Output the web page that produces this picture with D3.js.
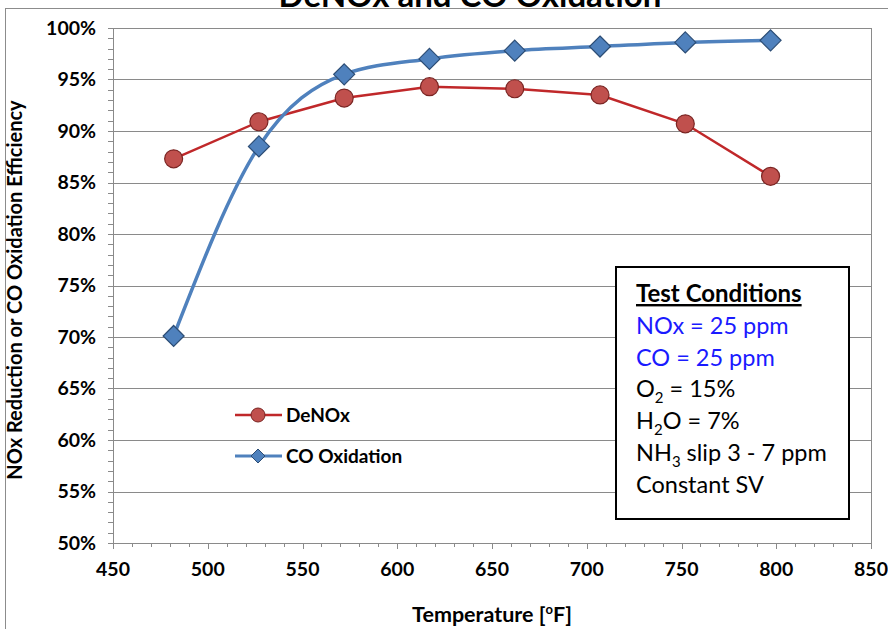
<!DOCTYPE html>
<html><head><meta charset="utf-8">
<script src="https://cdn.jsdelivr.net/npm/d3@7"></script>
<style>body{margin:0;background:#fff;}svg{display:block;font-family:Lato,"Open Sans",sans-serif;}</style>
</head><body>
<svg id="c" width="888" height="629"></svg>
<script>
const temps = [482, 527, 572, 617, 662, 707, 752, 797];
const deNOx = [87.3, 90.9, 93.2, 94.3, 94.1, 93.5, 90.7, 85.6];
const coOx = [70.1, 88.5, 95.5, 97.0, 97.8, 98.2, 98.6, 98.8];
const xTicks = [450, 500, 550, 600, 650, 700, 750, 800, 850];
const yTicks = [50, 55, 60, 65, 70, 75, 80, 85, 90, 95, 100];
const conditions = [
  {t: "NOx = 25 ppm", c: "#1a1aff"},
  {t: "CO = 25 ppm", c: "#1a1aff"},
  {t: "O|2| = 15%", c: "#000"},
  {t: "H|2|O = 7%", c: "#000"},
  {t: "NH|3| slip 3 - 7 ppm", c: "#000"},
  {t: "Constant SV", c: "#000"}
];

const svg = d3.select("#c");
const L = 113, R = 871, T = 28, B = 543;
const x = d3.scaleLinear().domain([450, 850]).range([L, R]);
const y = d3.scaleLinear().domain([50, 100]).range([B, T]);

// outer chart border
svg.append("rect").attr("x", 5.5).attr("y", 8.5).attr("width", 900).attr("height", 700)
  .attr("fill", "none").attr("stroke", "#8c8c8c").attr("stroke-width", 1);

// title (cut off at top as in the reference)
svg.append("text").attr("x", 470).attr("y", 7).attr("text-anchor", "middle")
  .attr("font-size", 33).attr("font-weight", "bold").text("DeNOx and CO Oxidation");

// gridlines
svg.append("g").selectAll("line").data(yTicks.slice(1)).join("line")
  .attr("x1", L).attr("x2", R).attr("y1", d => Math.round(y(d)) + 0.5).attr("y2", d => Math.round(y(d)) + 0.5)
  .attr("stroke", "#8a8a8a").attr("stroke-width", 1);
svg.append("line").attr("x1", R + 0.5).attr("x2", R + 0.5).attr("y1", T).attr("y2", B).attr("stroke", "#8a8a8a");

// y axis
const yMinor = d3.range(50, 100.01, 1);
const gy = svg.append("g");
gy.append("line").attr("x1", L + 0.5).attr("x2", L + 0.5).attr("y1", T).attr("y2", B).attr("stroke", "#8a8a8a");
gy.selectAll("line.m").data(yMinor).join("line").attr("class", "m")
  .attr("x1", L - 5).attr("x2", L).attr("y1", d => Math.round(y(d)) + 0.5).attr("y2", d => Math.round(y(d)) + 0.5)
  .attr("stroke", "#8a8a8a");
gy.selectAll("text").data(yTicks).join("text")
  .attr("x", L - 17).attr("y", d => y(d) + 6.5).attr("text-anchor", "end")
  .attr("font-size", 19.5).attr("font-weight", "bold").text(d => d + "%");

// x axis
const xMinor = d3.range(450, 850.01, 10);
const gx = svg.append("g");
gx.append("line").attr("x1", L).attr("x2", R).attr("y1", B + 0.5).attr("y2", B + 0.5).attr("stroke", "#8a8a8a");
gx.selectAll("line.m").data(xMinor).join("line").attr("class", "m")
  .attr("x1", d => Math.round(x(d)) + 0.5).attr("x2", d => Math.round(x(d)) + 0.5)
  .attr("y1", B).attr("y2", d => B + (d % 50 === 0 ? 6 : 4)).attr("stroke", "#8a8a8a");
gx.selectAll("text").data(xTicks).join("text")
  .attr("x", d => x(d)).attr("y", B + 33).attr("text-anchor", "middle")
  .attr("font-size", 19.5).attr("font-weight", "bold").text(d => d);

// axis titles
const xt = svg.append("text").attr("x", 492).attr("y", 622).attr("text-anchor", "middle")
  .attr("font-size", 21.5).attr("font-weight", "bold");
xt.append("tspan").text("Temperature [");
xt.append("tspan").attr("font-size", 13).attr("dy", -8).text("o");
xt.append("tspan").attr("dy", 8).text("F]");
svg.append("text").attr("transform", "translate(22,290) rotate(-90)").attr("text-anchor", "middle")
  .attr("font-size", 20).attr("font-weight", "bold").text("NOx Reduction or CO Oxidation Efficiency");

// series
const redLine = "#c0282a", redFill = "#c0504d", redStroke = "#7a2523";
const blueLine = "#4f81bd", blueFill = "#4f81bd", blueStroke = "#2c4d75";

const lineRed = d3.line().x((d, i) => x(temps[i])).y(d => y(d));
const lineBlue = d3.line().x((d, i) => x(temps[i])).y(d => y(d)).curve(d3.curveMonotoneX);

svg.append("path").attr("d", lineRed(deNOx)).attr("fill", "none").attr("stroke", redLine).attr("stroke-width", 2.5);
svg.append("path").attr("d", lineBlue(coOx)).attr("fill", "none").attr("stroke", blueLine).attr("stroke-width", 3.5);

const diamond = s => `M0,${-s}L${s},0L0,${s}L${-s},0Z`;
svg.append("g").selectAll("circle").data(deNOx).join("circle")
  .attr("cx", (d, i) => x(temps[i])).attr("cy", d => y(d)).attr("r", 9)
  .attr("fill", redFill).attr("stroke", redStroke).attr("stroke-width", 1.2);
svg.append("g").selectAll("path").data(coOx).join("path")
  .attr("transform", (d, i) => `translate(${x(temps[i])},${y(d)})`).attr("d", diamond(10.5))
  .attr("fill", blueFill).attr("stroke", blueStroke).attr("stroke-width", 1.2);

// legend
const lg = svg.append("g");
lg.append("line").attr("x1", 235).attr("x2", 282).attr("y1", 415).attr("y2", 415).attr("stroke", redLine).attr("stroke-width", 2.5);
lg.append("circle").attr("cx", 258).attr("cy", 415).attr("r", 7).attr("fill", redFill).attr("stroke", redStroke);
lg.append("text").attr("x", 286).attr("y", 422).attr("font-size", 19).attr("font-weight", "bold").text("DeNOx");
lg.append("line").attr("x1", 235).attr("x2", 282).attr("y1", 456).attr("y2", 456).attr("stroke", blueLine).attr("stroke-width", 3);
lg.append("path").attr("transform", "translate(258,456)").attr("d", diamond(7)).attr("fill", blueFill).attr("stroke", blueStroke);
lg.append("text").attr("x", 286).attr("y", 463).attr("font-size", 19).attr("font-weight", "bold").text("CO Oxidation");

// test conditions box
const bx = svg.append("g");
bx.append("rect").attr("x", 616).attr("y", 267).attr("width", 233).attr("height", 252)
  .attr("fill", "#fff").attr("stroke", "#000").attr("stroke-width", 2);
bx.append("text").attr("x", 636).attr("y", 302).attr("font-size", 24).attr("font-weight", "bold")
  .attr("text-decoration", "underline").text("Test Conditions");
conditions.forEach((c, i) => {
  const t = bx.append("text").attr("x", 636).attr("y", 334 + i * 31.7).attr("font-size", 23.5).attr("fill", c.c);
  c.t.split("|").forEach((part, j) => {
    if (j % 2 === 1) t.append("tspan").attr("font-size", 15).attr("dy", 6).text(part);
    else t.append("tspan").attr("dy", j === 0 ? 0 : -6).text(part);
  });
});
</script>
</body></html>
